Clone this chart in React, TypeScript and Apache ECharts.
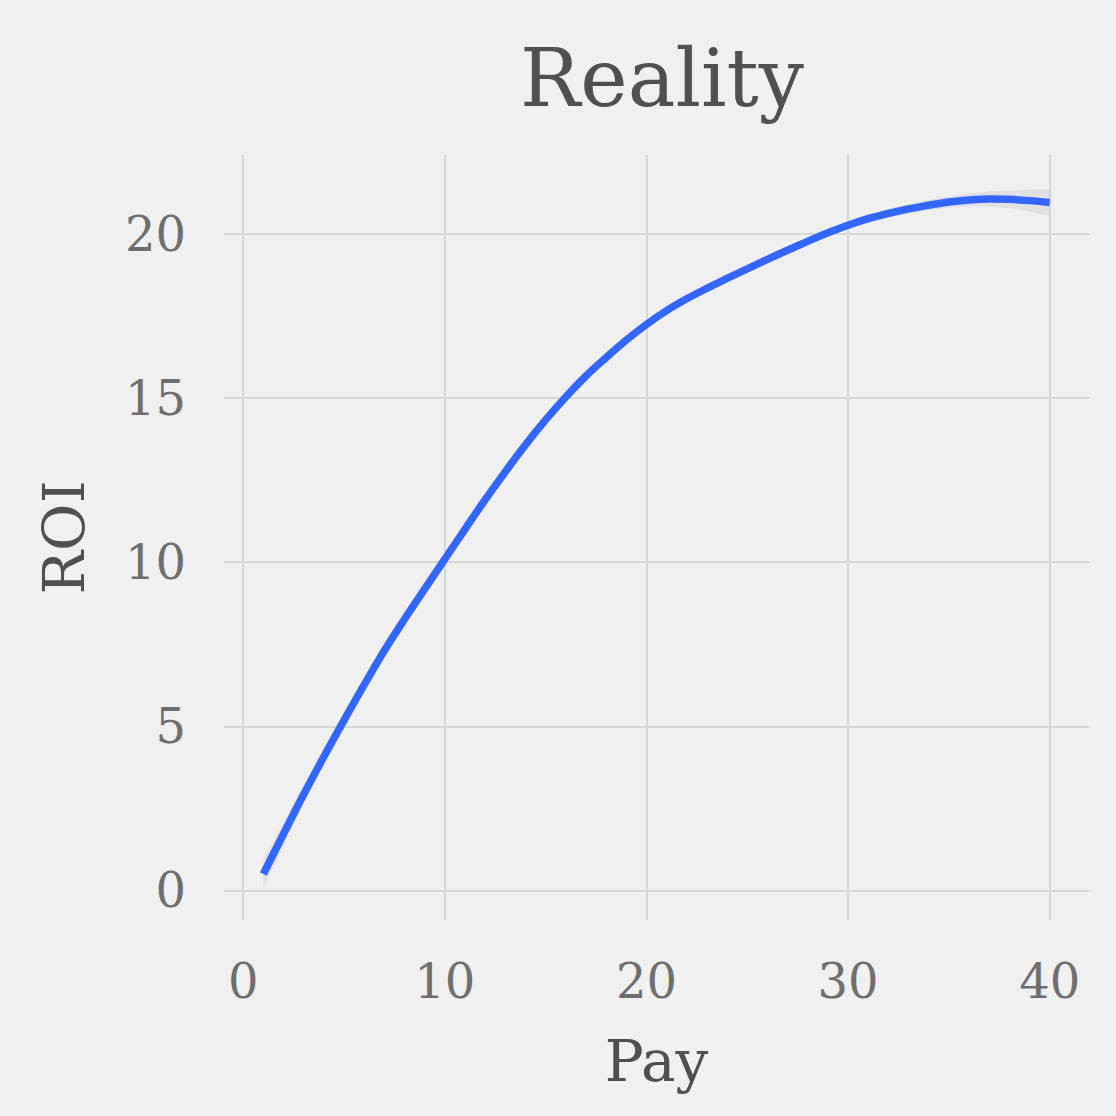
import React, { useEffect, useRef } from "react";
import * as echarts from "echarts";

const pay = [1, 2, 3, 4, 5, 6, 7, 8, 9, 10, 11, 12, 13, 14, 15, 16, 17, 18, 19, 20, 21, 22, 23, 24, 25, 26, 27, 28, 29, 30, 31, 32, 33, 34, 35, 36, 37, 38, 39, 40];
const roi = [0.5, 1.72, 2.92, 4.07, 5.18, 6.26, 7.3, 8.26, 9.18, 10.09, 11.0, 11.9, 12.75, 13.57, 14.33, 15.03, 15.67, 16.23, 16.76, 17.24, 17.66, 18.02, 18.34, 18.64, 18.93, 19.22, 19.5, 19.77, 20.03, 20.26, 20.46, 20.62, 20.76, 20.87, 20.97, 21.03, 21.06, 21.05, 21.01, 20.95];
const se = [0.45, 0.36, 0.27, 0.2, 0.16, 0.13, 0.12, 0.11, 0.11, 0.11, 0.11, 0.11, 0.11, 0.11, 0.11, 0.11, 0.11, 0.11, 0.11, 0.11, 0.11, 0.11, 0.11, 0.11, 0.11, 0.11, 0.11, 0.11, 0.11, 0.12, 0.13, 0.14, 0.15, 0.16, 0.18, 0.2, 0.23, 0.27, 0.33, 0.4];
const xTicks = [0, 10, 20, 30, 40];
const yTicks = [0, 5, 10, 15, 20];
const titleText = "Reality";
const xName = "Pay";
const yName = "ROI";

const FONT = "DejaVu Serif";

export default function App() {
  const ref = useRef<HTMLDivElement>(null);
  useEffect(() => {
    if (!ref.current) return;
    const chart = echarts.init(ref.current, null, { renderer: "svg" });
    const line = pay.map((x, i) => [x, roi[i]]);
    const bandData = pay.slice(0, -1).map((x, i) => [
      x,
      roi[i] - se[i],
      roi[i] + se[i],
      pay[i + 1],
      roi[i + 1] - se[i + 1],
      roi[i + 1] + se[i + 1],
    ]);
    chart.setOption({
      animation: false,
      backgroundColor: "#f0f0f0",
      title: {
        text: titleText,
        left: 657,
        top: 33,
        textAlign: "center",
        textStyle: { fontFamily: FONT, fontSize: 80, fontWeight: "normal", color: "#505050" },
      },
      grid: { left: 224, right: 27, top: 155, bottom: 196 },
      xAxis: {
        type: "value",
        min: -0.95,
        max: 41.95,
        name: xName,
        nameLocation: "middle",
        nameGap: 112,
        nameTextStyle: { fontFamily: FONT, fontSize: 58, color: "#505050" },
        axisLine: { show: false },
        axisTick: { show: false, customValues: xTicks },
        axisLabel: {
          fontFamily: FONT,
          fontSize: 48,
          color: "#6e6e6e",
          margin: 37,
          customValues: xTicks,
        },
        splitLine: { lineStyle: { color: "#d6d6d6", width: 2 } },
      },
      yAxis: {
        type: "value",
        min: -0.9,
        max: 22.4,
        name: yName,
        nameLocation: "middle",
        nameGap: 131,
        nameRotate: 90,
        nameTextStyle: { fontFamily: FONT, fontSize: 58, color: "#505050" },
        axisLine: { show: false },
        axisTick: { show: false, customValues: yTicks },
        axisLabel: {
          fontFamily: FONT,
          fontSize: 48,
          color: "#6e6e6e",
          margin: 38,
          customValues: yTicks,
        },
        splitLine: { lineStyle: { color: "#d6d6d6", width: 2 } },
      },
      series: [
        {
          type: "custom",
          silent: true,
          data: bandData,
          encode: { x: [0, 3], y: [1, 2, 4, 5] },
          renderItem: (params: any, api: any) => {
            const a = api.coord([api.value(0), api.value(1)]);
            const b = api.coord([api.value(0), api.value(2)]);
            const c = api.coord([api.value(3), api.value(5)]);
            const d = api.coord([api.value(3), api.value(4)]);
            return {
              type: "polygon",
              shape: { points: [a, b, c, d] },
              style: { fill: "rgba(150,150,150,0.16)", stroke: "none" },
            };
          },
        },
        {
          type: "line",
          data: line,
          symbol: "none",
          smooth: 0.4,
          lineStyle: { color: "#3366FF", width: 7.5 },
        },
      ],
    });
    return () => chart.dispose();
  }, []);
  return (
    <div
      ref={ref}
      style={{ position: "absolute", left: 0, top: 0, width: 1116, height: 1116 }}
    />
  );
}
